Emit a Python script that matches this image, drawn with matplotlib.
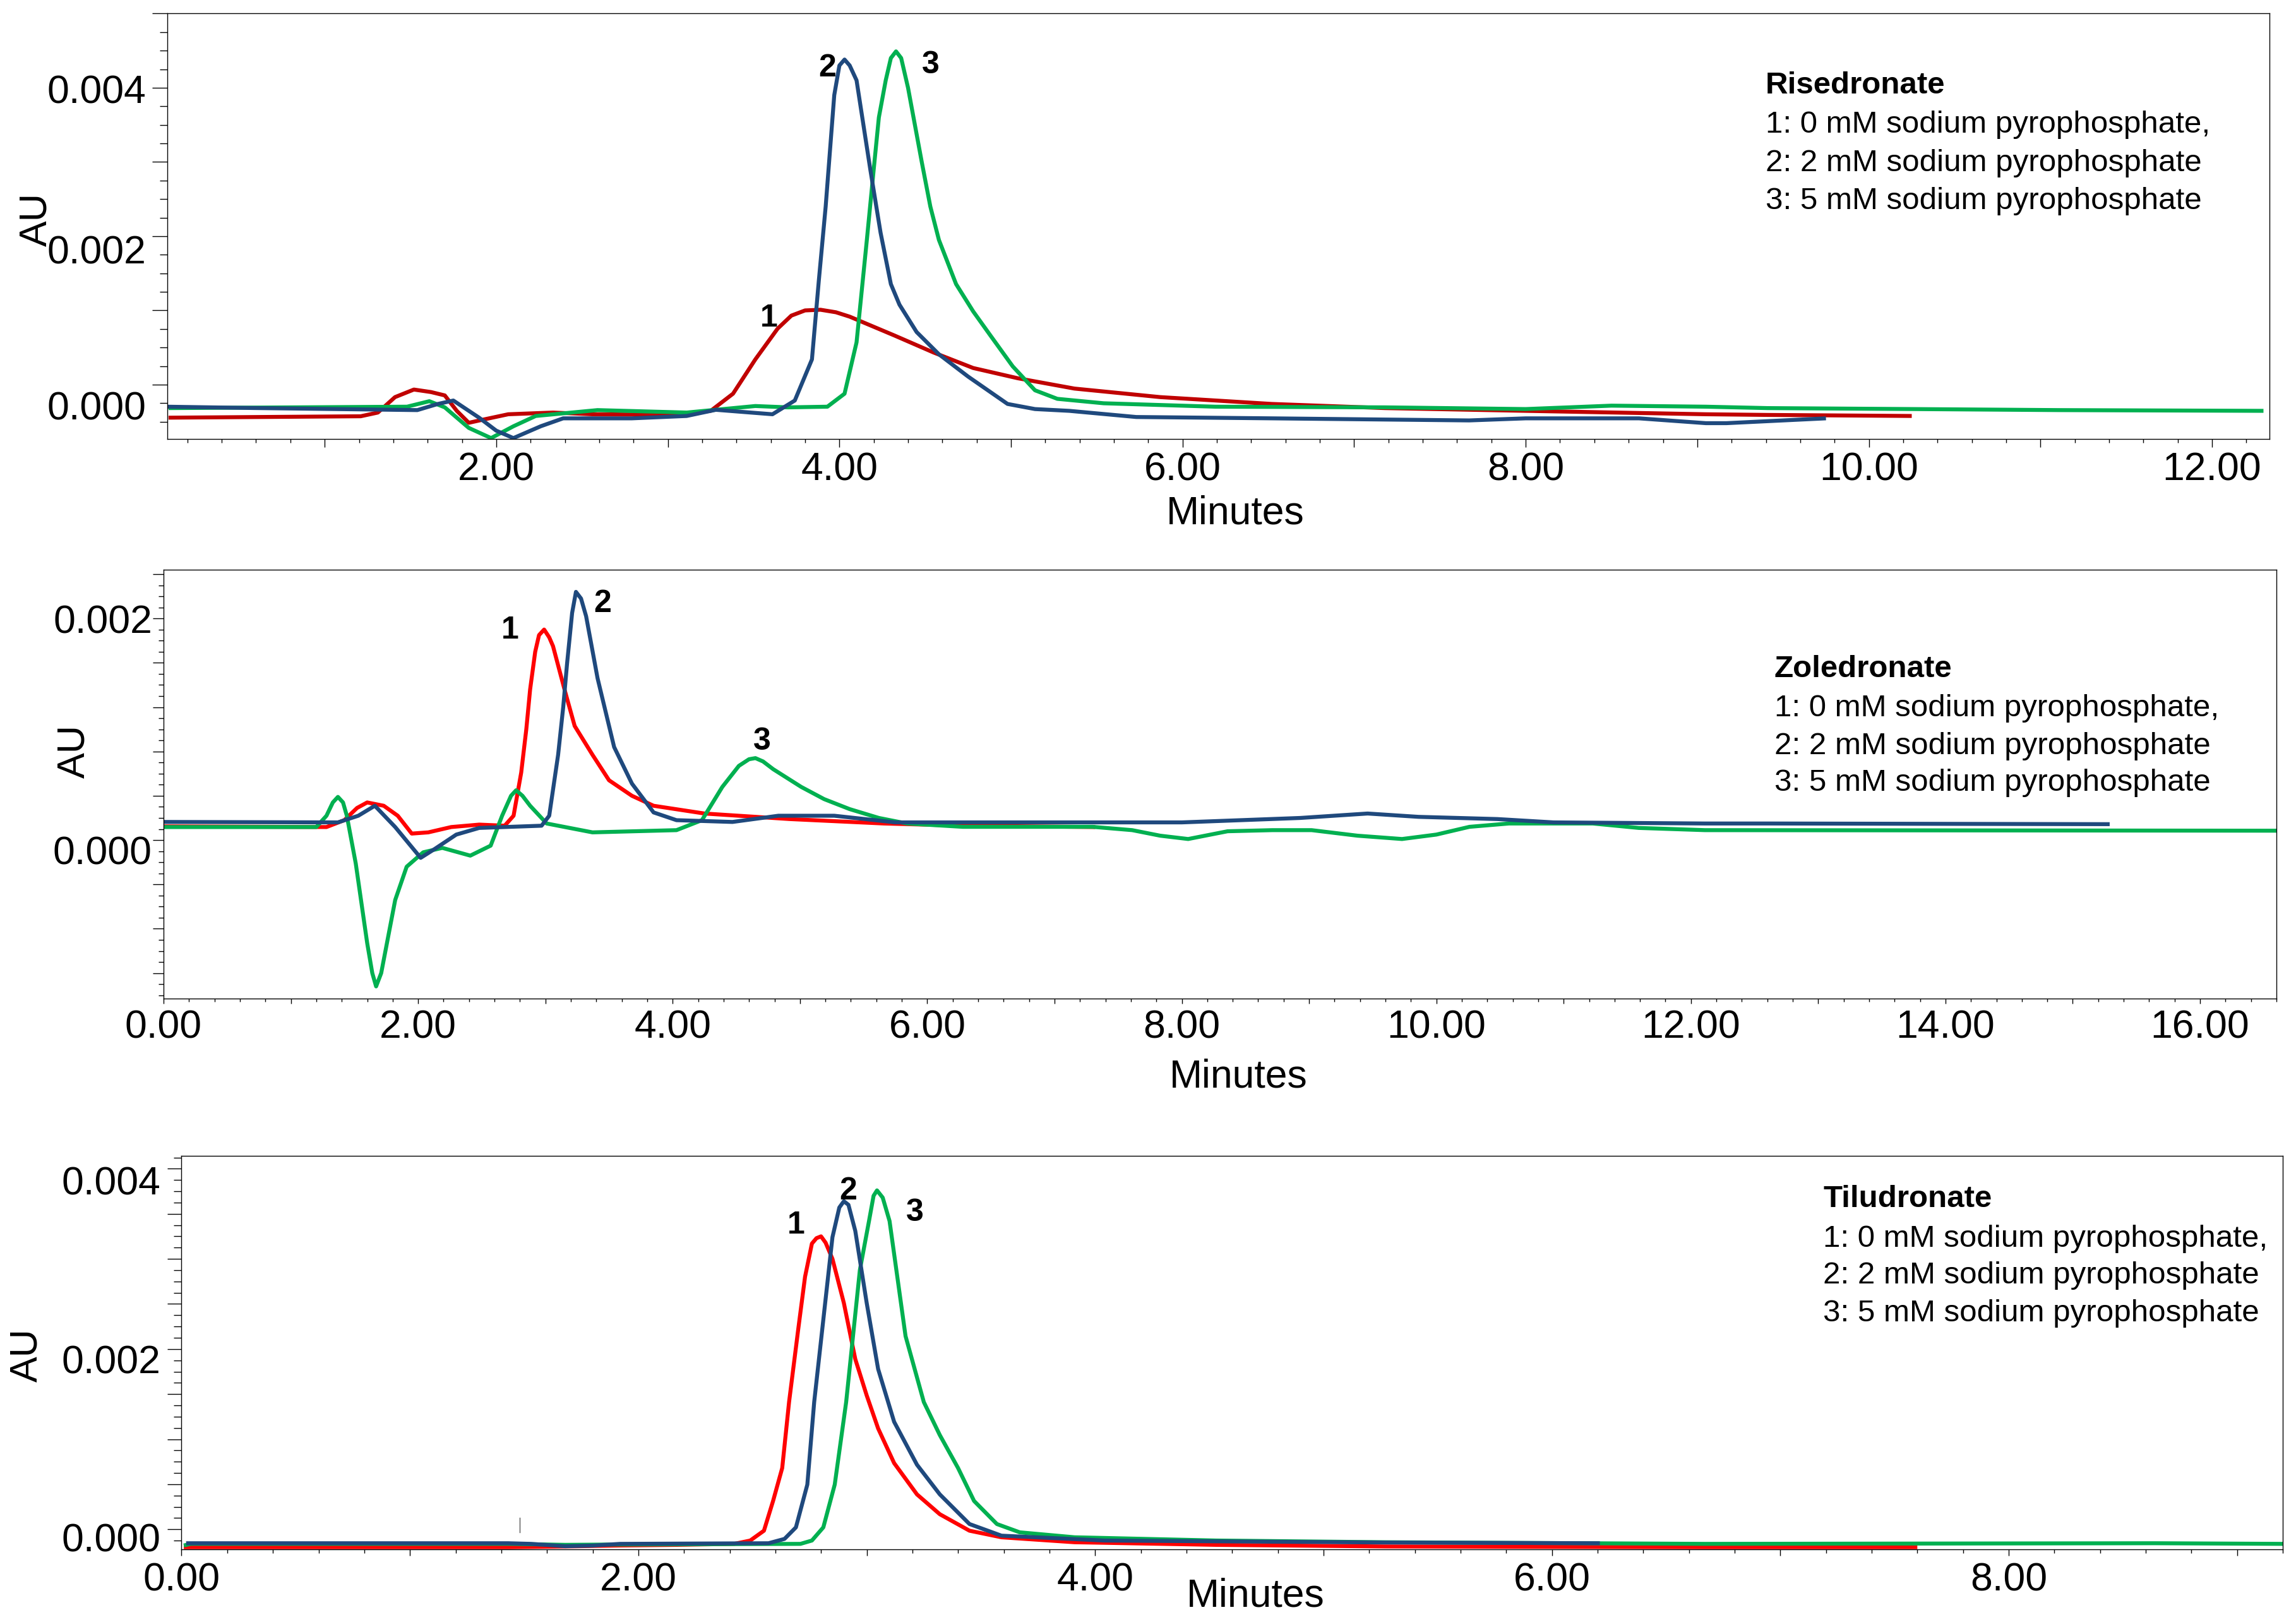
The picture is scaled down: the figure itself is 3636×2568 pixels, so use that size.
import numpy as np
import matplotlib
matplotlib.use("Agg")
import matplotlib.pyplot as plt
from matplotlib.ticker import MultipleLocator, FuncFormatter
import matplotlib.transforms as mtransforms

plt.rcParams["font.family"] = ["Liberation Sans", "DejaVu Sans"]

W, H = 3637, 2568
DPI = 100

RED_DARK = "#C00000"
RED = "#FF0000"
GREEN = "#00B050"
BLUE = "#1F497D"

## Risedronate (top)
ris_t1 = [0.09, 1.21, 1.31, 1.41, 1.52, 1.62, 1.70, 1.77, 1.84, 1.93, 2.07, 2.33, 2.56, 3.05, 3.25, 3.38,
          3.51, 3.64, 3.72, 3.80, 3.89, 3.98, 4.06, 4.32, 4.55, 4.78, 5.04, 5.37, 5.87, 6.52, 7.18, 8.00,
          9.05, 9.41, 10.25]
ris_y1 = [-0.000445, -0.000426, -0.000376, -0.000168, -0.000066, -0.000100, -0.000145, -0.000353, -0.000514,
          -0.000468, -0.000399, -0.000376, -0.000399, -0.000408, -0.000353, -0.000122, 0.00034, 0.000755,
          0.000930, 0.001000, 0.001009, 0.000975, 0.000916, 0.000663, 0.000432, 0.000224, 0.000086,
          -0.000053, -0.000168, -0.00026, -0.000316, -0.000353, -0.000399, -0.000408, -0.000422]
ris_t2 = [0.08, 0.59, 1.54, 1.66, 1.75, 1.90, 2.00, 2.10, 2.26, 2.39, 2.79, 3.11, 3.28, 3.45, 3.61, 3.74, 3.84,
          3.88, 3.92, 3.95, 3.97, 4.00, 4.03, 4.06, 4.10, 4.14, 4.18, 4.24, 4.30, 4.35, 4.45, 4.58, 4.75,
          4.98, 5.14, 5.34, 5.73, 6.52, 7.67, 8.00, 8.66, 9.05, 9.17, 9.75]
ris_y2 = [-0.000297, -0.000315, -0.000343, -0.00026, -0.000214, -0.000445, -0.00062, -0.00072, -0.00056,
          -0.000454, -0.000454, -0.000422, -0.000339, -0.00037, -0.000399, -0.000214, 0.00034, 0.0014,
          0.0024, 0.0033, 0.0039, 0.0043, 0.00438, 0.0043, 0.0041, 0.0035, 0.0029, 0.002047, 0.001355,
          0.001078, 0.000709, 0.000409, 0.000109, -0.00026, -0.000329, -0.000353, -0.000436, -0.000454,
          -0.000482, -0.000454, -0.000454, -0.000519, -0.000519, -0.000454]
ris_t3 = [0.09, 1.48, 1.61, 1.70, 1.84, 1.97, 2.10, 2.23, 2.59, 3.11, 3.51, 3.70, 3.93, 4.03, 4.10, 4.16, 4.20,
          4.23, 4.27, 4.30, 4.33, 4.36, 4.40, 4.44, 4.48, 4.53, 4.58, 4.68, 4.78, 4.88, 5.01, 5.14, 5.27,
          5.54, 6.19, 7.18, 8.00, 8.50, 9.05, 9.41, 10.26, 11.11, 12.30]
ris_y3 = [-0.000316, -0.000297, -0.000223, -0.000306, -0.000583, -0.00072, -0.000561, -0.000422, -0.000343,
          -0.000376, -0.000288, -0.000306, -0.000297, -0.000122, 0.00057, 0.00195, 0.0029, 0.0036, 0.0041,
          0.0044, 0.00449, 0.0044, 0.0040, 0.0035, 0.0030, 0.0024, 0.00195, 0.001355, 0.000986, 0.000663,
          0.000247, -0.000076, -0.000191, -0.000251, -0.000297, -0.000306, -0.000329, -0.000283, -0.000297,
          -0.000316, -0.000329, -0.000343, -0.000353]

## Zoledronate (middle)
zol_t1 = [0.0, 1.28, 1.42, 1.52, 1.60, 1.73, 1.84, 1.95, 2.08, 2.26, 2.48, 2.68, 2.75, 2.81, 2.85, 2.88, 2.92,
          2.95, 2.99, 3.03, 3.06, 3.15, 3.23, 3.37, 3.50, 3.68, 3.85, 4.25, 4.92, 5.66, 6.30, 7.32]
zol_y1 = [0.000124, 0.000118, 0.00018, 0.00029, 0.00034, 0.00031, 0.00022, 0.000059, 0.00007, 0.000118,
          0.00014, 0.00013, 0.00022, 0.00061, 0.00100, 0.00136, 0.0017, 0.00185, 0.0019, 0.00183, 0.00175,
          0.00136, 0.00103, 0.00077, 0.00054, 0.0004, 0.00031, 0.00024, 0.00019, 0.00015, 0.00013, 0.000118]
zol_t2 = [0.0, 1.37, 1.53, 1.66, 1.82, 2.02, 2.13, 2.30, 2.48, 2.97, 3.03, 3.10, 3.14, 3.17, 3.21, 3.24, 3.28,
          3.32, 3.41, 3.54, 3.68, 3.85, 4.03, 4.47, 4.83, 5.27, 5.75, 8.00, 8.93, 9.46, 9.86, 10.48, 10.92,
          12.11, 12.61, 15.29]
zol_y2 = [0.000164, 0.00016, 0.00022, 0.00031, 0.000118, -0.00016, -0.00008, 0.00005, 0.00011, 0.00013,
          0.00022, 0.00077, 0.00120, 0.00159, 0.00205, 0.00224, 0.00218, 0.00202, 0.00146, 0.00084, 0.00051,
          0.00025, 0.00018, 0.000164, 0.00022, 0.00022, 0.00016, 0.00016, 0.0002, 0.00024, 0.00021, 0.00019,
          0.00016, 0.00015, 0.00015, 0.000144]
zol_t3 = [0.0, 1.20, 1.28, 1.33, 1.37, 1.41, 1.44, 1.51, 1.60, 1.64, 1.67, 1.71, 1.75, 1.82, 1.91, 2.04, 2.19,
          2.41, 2.57, 2.66, 2.73, 2.77, 2.82, 2.88, 3.01, 3.37, 4.03, 4.23, 4.39, 4.52, 4.60, 4.65, 4.71, 4.79,
          5.01, 5.19, 5.39, 5.62, 5.84, 6.28, 7.30, 7.61, 7.83, 8.05, 8.36, 8.71, 9.02, 9.38, 9.73, 10.0,
          10.26, 10.57, 11.23, 11.59, 12.11, 16.61]
zol_y3 = [0.000118, 0.000118, 0.00022, 0.00034, 0.00039, 0.00034, 0.00022, -0.00021, -0.00093, -0.00120,
          -0.00132, -0.00120, -0.00096, -0.00054, -0.00024, -0.00011, -0.00007, -0.00014, -0.00005, 0.00022,
          0.00040, 0.00045, 0.00040, 0.00031, 0.00015, 0.00007, 0.00009, 0.00018, 0.00048, 0.00067, 0.00073,
          0.00074, 0.00071, 0.00064, 0.00048, 0.00037, 0.00028, 0.0002, 0.00015, 0.00012, 0.00012, 0.00009,
          0.00004, 0.00001, 0.00008, 0.00009, 0.00009, 0.00004, 0.00001, 0.00005, 0.00012, 0.00015, 0.00015,
          0.00011, 0.00009, 0.000085]

## Tiludronate (bottom)
til_t1 = [0.01, 1.43, 1.68, 1.92, 2.17, 2.42, 2.49, 2.55, 2.59, 2.63, 2.66, 2.70, 2.73, 2.76, 2.78, 2.80, 2.82,
          2.85, 2.90, 2.95, 3.00, 3.05, 3.12, 3.22, 3.32, 3.45, 3.59, 3.91, 4.53, 5.27, 6.67, 7.60]
til_y1 = [-0.000198, -0.000198, -0.00019, -0.000179, -0.000172, -0.000161, -0.000124, -0.000015, 0.000315,
          0.00068, 0.001412, 0.002217, 0.002802, 0.00317, 0.00323, 0.00325, 0.00318, 0.00300, 0.00251,
          0.001888, 0.001485, 0.001119, 0.000735, 0.000388, 0.000168, -0.000015, -0.000088, -0.000143,
          -0.000172, -0.00019, -0.000198, -0.000198]
til_t2 = [0.02, 1.43, 1.53, 1.68, 1.80, 1.92, 2.57, 2.64, 2.69, 2.74, 2.77, 2.81, 2.85, 2.88, 2.90, 2.92, 2.95,
          3.00, 3.05, 3.12, 3.22, 3.32, 3.45, 3.59, 4.04, 5.27, 6.21]
til_y2 = [-0.000154, -0.000154, -0.000161, -0.000187, -0.00018, -0.000161, -0.000154, -0.000106, 0.000022,
          0.000497, 0.001412, 0.002326, 0.003241, 0.00357, 0.00364, 0.00360, 0.00331, 0.00251, 0.001778,
          0.001193, 0.000717, 0.000388, 0.000059, -0.00007, -0.000124, -0.000146, -0.000154]
til_t3 = [0.01, 0.04, 1.43, 1.68, 1.92, 2.71, 2.76, 2.81, 2.86, 2.91, 2.97, 3.01, 3.03, 3.045, 3.07, 3.10, 3.17,
          3.25, 3.32, 3.40, 3.47, 3.57, 3.67, 3.91, 4.53, 5.27, 6.67, 8.64, 9.20]
til_y3 = [-0.000179, -0.000161, -0.000161, -0.000172, -0.000168, -0.000161, -0.000124, 0.000022, 0.000497,
          0.001412, 0.002876, 0.00342, 0.00370, 0.00376, 0.00368, 0.00342, 0.002144, 0.001412, 0.001046,
          0.00068, 0.000315, 0.000059, -0.000033, -0.000088, -0.000124, -0.000143, -0.000161, -0.000154,
          -0.000161]
til_marker_t = [1.48, 1.48]
til_marker_y = [0.00013, -0.00003]

legend_lines = ["1: 0 mM sodium pyrophosphate,",
                "2: 2 mM sodium pyrophosphate",
                "3: 5 mM sodium pyrophosphate"]

panels = [
    dict(name="Risedronate", rect=(265, 20.6, 3594, 695), xlim=(0.083, 12.335), ylim=(-0.000732, 0.005007),
         ymaj=0.001, ymin=0.00025, ylen=(17.3, 8.6), xlen=(9, 4.3), ypad=7, xpad=5,
         lab_drop={"0.000": 33, "0.002": 21, "0.004": 2},
         series=[(ris_t1, ris_y1, RED_DARK), (ris_t3, ris_y3, GREEN), (ris_t2, ris_y2, BLUE)],
         peaks=[("1", 3.59, 0.00089), ("2", 3.93, 0.00426), ("3", 4.53, 0.00431)],
         legend=(2796, 135.6, [197.8, 258.5, 318.7]), au=(58, 347), minutes=(1956, 813)),
    dict(name="Zoledronate", rect=(259, 902, 3605, 1581), xlim=(0.0, 16.60), ylim=(-0.00143, 0.00244),
         ymaj=0.0004, ymin=0.0001, ylen=(12, 5.5), xlen=(5.8, 3.3), ypad=1, xpad=6,
         lab_drop={"0.000": 15, "0.002": 0},
         series=[(zol_t1, zol_y1, RED), (zol_t3, zol_y3, GREEN), (zol_t2, zol_y2, BLUE)],
         peaks=[("1", 2.72, 0.00189), ("2", 3.45, 0.00213), ("3", 4.70, 0.00089)],
         legend=(2810, 1059.5, [1121, 1181, 1240]), au=(118, 1190), minutes=(1961, 1705)),
    dict(name="Tiludronate", rect=(287.5, 1830, 3615, 2453), xlim=(0.0, 9.20), ylim=(-0.000222, 0.004143),
         ymaj=0.0005, ymin=0.000125, ylen=(16, 8.6), xlen=(7.2, 4.3), ypad=8, xpad=6.5,
         lab_drop={"0.000": 12, "0.002": 16, "0.004": 18},
         series=[(til_t1, til_y1, RED), (til_t3, til_y3, GREEN), (til_t2, til_y2, BLUE)],
         peaks=[("1", 2.69, 0.00337), ("2", 2.92, 0.00375), ("3", 3.21, 0.003515)],
         legend=(2887.5, 1898.7, [1961, 2020, 2079]), au=(43, 2146), minutes=(1988, 2527)),
]


def x_label(v, pos):
    r = round(v)
    if abs(v - r) < 1e-6 and r % 2 == 0:
        return "%.2f" % r
    return ""


def y_label(v, pos):
    k = v / 0.002
    if abs(k - round(k)) < 1e-4:
        val = round(k) * 0.002
        if abs(val) < 1e-9:
            val = 0.0
        return "%.3f" % val
    return ""


fig = plt.figure(figsize=(W / DPI, H / DPI), dpi=DPI)
fig.patch.set_facecolor("white")

for p in panels:
    x0, y0, x1, y1 = p["rect"]
    ax = fig.add_axes([x0 / W, 1 - y1 / H, (x1 - x0) / W, (y1 - y0) / H])
    for t, y, c in p["series"]:
        ax.plot(t, y, color=c, linewidth=4.5, solid_joinstyle="round", solid_capstyle="butt")
    if p["name"] == "Tiludronate":
        ax.plot(til_marker_t, til_marker_y, color="#555555", linewidth=1.0)
    for txt, tx, ty in p["peaks"]:
        ax.text(tx, ty, txt, fontsize=36, fontweight="bold", ha="center", va="center")
    ax.set_xlim(*p["xlim"])
    ax.set_ylim(*p["ylim"])
    ax.xaxis.set_major_locator(MultipleLocator(1.0))
    ax.xaxis.set_minor_locator(MultipleLocator(0.2))
    ax.xaxis.set_major_formatter(FuncFormatter(x_label))
    ax.yaxis.set_major_locator(MultipleLocator(p["ymaj"]))
    ax.yaxis.set_minor_locator(MultipleLocator(p["ymin"]))
    ax.yaxis.set_major_formatter(FuncFormatter(y_label))
    ax.tick_params(axis="y", which="major", length=p["ylen"][0], width=1, direction="out",
                   labelsize=45, pad=p["ypad"])
    ax.tick_params(axis="y", which="minor", length=p["ylen"][1], width=1, direction="out")
    ax.tick_params(axis="x", which="major", length=p["xlen"][0], width=1, direction="out",
                   labelsize=45, pad=p["xpad"])
    ax.tick_params(axis="x", which="minor", length=p["xlen"][1], width=1, direction="out")
    for s in ax.spines.values():
        s.set_linewidth(1.0)

    # the y labels sit a little below their ticks in the original
    fig.canvas.draw()
    for lab in ax.get_yticklabels():
        drop = p["lab_drop"].get(lab.get_text(), 0)
        off = mtransforms.ScaledTranslation(0, -drop / DPI, fig.dpi_scale_trans)
        lab.set_transform(lab.get_transform() + off)

    lx, ly, lines = p["legend"]
    fig.text(lx / W, 1 - ly / H, p["name"], fontsize=35.5, fontweight="bold", ha="left", va="center")
    for line_y, line in zip(lines, legend_lines):
        fig.text(lx / W, 1 - line_y / H, line, fontsize=35.5, ha="left", va="center")
    fig.text(p["au"][0] / W, 1 - p["au"][1] / H, "AU", fontsize=44, rotation=90, ha="center", va="center")
    fig.text(p["minutes"][0] / W, 1 - p["minutes"][1] / H, "Minutes", fontsize=45, ha="center", va="center")

plt.savefig("out.png", dpi=DPI, facecolor="white")
